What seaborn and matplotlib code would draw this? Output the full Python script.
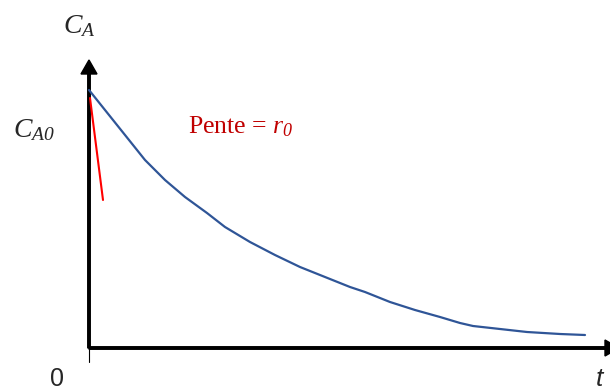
import matplotlib
matplotlib.use("Agg")
import matplotlib.pyplot as plt
import seaborn as sns
import pandas as pd

# Concentration decay curve C_A(t), arbitrary units
t_values = [0.00, 0.16, 0.36, 0.56, 0.76, 0.96, 1.18, 1.36, 1.61, 1.86, 2.11, 2.36,
            2.61, 2.76, 3.01, 3.26, 3.51, 3.71, 3.84, 4.11, 4.38, 4.71, 4.96]
c_values = [2.58, 2.38, 2.13, 1.88, 1.68, 1.51, 1.35, 1.21, 1.06, 0.93, 0.81, 0.71,
            0.61, 0.56, 0.46, 0.38, 0.31, 0.25, 0.22, 0.19, 0.16, 0.14, 0.13]

# Initial tangent (slope r0)
tangent_t = [0.01, 0.14]
tangent_c = [2.50, 1.48]

y_axis_top = 2.88
x_axis_end = 5.30

sns.set_style("white")
plt.rcParams["font.family"] = ["Liberation Serif", "DejaVu Serif"]
plt.rcParams["mathtext.fontset"] = "custom"
# symbols in the labels are all set in italic, subscript digits included
plt.rcParams["mathtext.rm"] = "Liberation Serif:style=italic"
plt.rcParams["mathtext.it"] = "Liberation Serif:style=italic"

fig = plt.figure(figsize=(6.10, 3.92), dpi=100)
ax = fig.add_axes([0, 0, 1, 1])
ax.set_xlim(-0.89, 5.21)
ax.set_ylim(-0.44, 3.48)
ax.axis("off")

df = pd.DataFrame({"t": t_values, "C": c_values})
sns.lineplot(data=df, x="t", y="C", ax=ax, color="#2F5597", linewidth=1.6, sort=False)
sns.lineplot(x=tangent_t, y=tangent_c, ax=ax, color="#FF0000", linewidth=1.5, sort=False)

# Axes with arrow heads
ax.arrow(0, 0, 0, y_axis_top, width=0.025, head_width=0.16, head_length=0.14,
         length_includes_head=True, color="black", clip_on=False)
ax.arrow(0, 0, x_axis_end, 0, width=0.025, head_width=0.16, head_length=0.14,
         length_includes_head=True, color="black", clip_on=False)
ax.plot([0, 0], [0, -0.14], color="black", linewidth=0.8)

ax.text(-0.26, 3.15, r"$C_{A}$", fontsize=20, ha="left", va="baseline")
ax.text(-0.76, 2.11, r"$C_{A0}$", fontsize=20, ha="left", va="baseline")
ax.text(0.99, 2.15, r"Pente = $r_{0}$", fontsize=18.5, color="#C00000",
        ha="left", va="baseline")
ax.text(-0.32, -0.425, "0", fontsize=18, family="Liberation Sans",
        ha="center", va="bottom")
ax.text(5.07, -0.425, "t", fontsize=19, family="Liberation Sans", style="italic",
        ha="left", va="bottom")

fig.savefig("out.png", dpi=100)
